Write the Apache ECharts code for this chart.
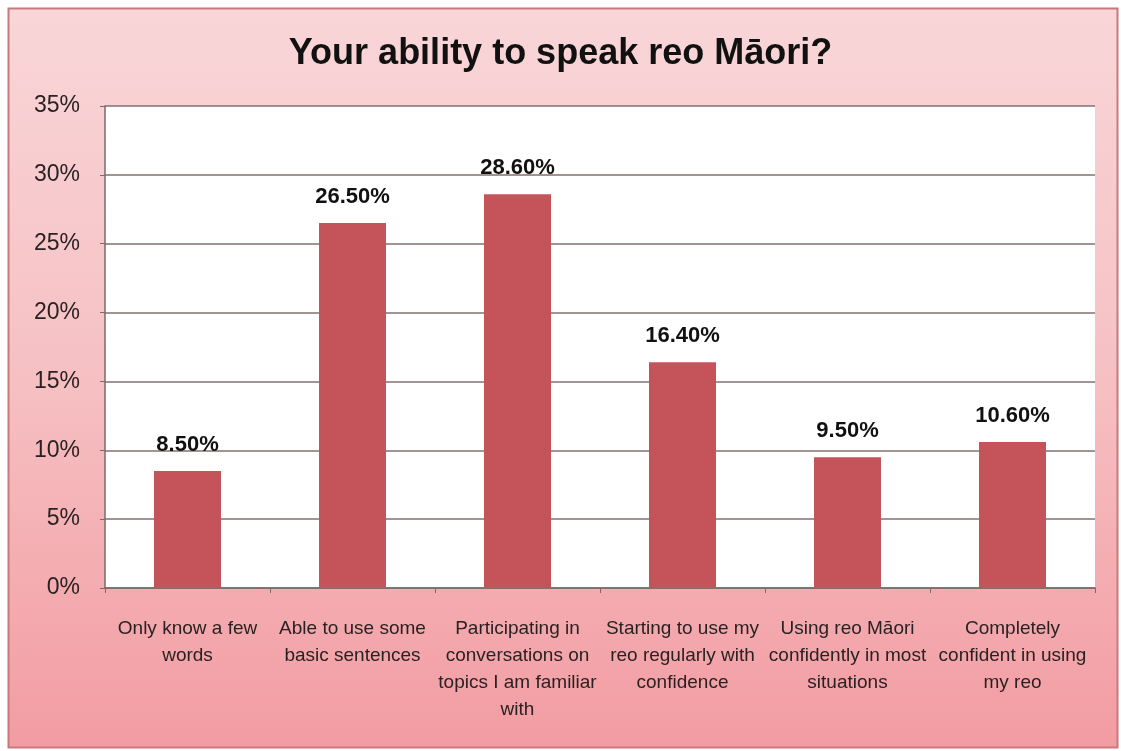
<!DOCTYPE html>
<html>
<head>
<meta charset="utf-8">
<style>
  html, body { margin: 0; padding: 0; background: #ffffff; }
  #chart { width: 1121px; height: 751px; }
</style>
<script src="https://cdn.jsdelivr.net/npm/echarts@6/dist/echarts.min.js"></script>
</head>
<body>
<div id="chart"></div>
<script>
// Survey responses: self-rated ability to speak te reo Māori
const categories = [
  'Only know a few\nwords',
  'Able to use some\nbasic sentences',
  'Participating in\nconversations on\ntopics I am familiar\nwith',
  'Starting to use my\nreo regularly with\nconfidence',
  'Using reo Māori\nconfidently in most\nsituations',
  'Completely\nconfident in using\nmy reo'
];
const percentages = [8.5, 26.5, 28.6, 16.4, 9.5, 10.6];
const yTicks = { min: 0, max: 35, interval: 5 };

const SANS = 'Liberation Sans, Arial, sans-serif';

const chart = echarts.init(document.getElementById('chart'), null, { renderer: 'canvas' });

chart.setOption({
  animation: false,
  backgroundColor: '#ffffff',
  textStyle: { fontFamily: SANS },
  graphic: [{
    type: 'rect',
    z: -10,
    silent: true,
    shape: { x: 8.5, y: 8.5, width: 1109, height: 739 },
    style: {
      fill: new echarts.graphic.LinearGradient(0, 0, 0, 1, [
        { offset: 0, color: '#f9d6d8' },
        { offset: 0.5, color: '#f6c0c3' },
        { offset: 1, color: '#f29ca2' }
      ]),
      stroke: '#c9787c',
      lineWidth: 2
    }
  }],
  title: {
    text: 'Your ability to speak reo Māori?',
    left: 'center',
    top: 31,
    textStyle: {
      fontFamily: SANS,
      fontSize: 36,
      fontWeight: 'bold',
      color: '#111111'
    }
  },
  grid: {
    left: 105,
    right: 26,
    top: 106,
    bottom: 163,
    show: true,
    backgroundColor: '#ffffff',
    borderWidth: 0
  },
  xAxis: {
    type: 'category',
    data: categories,
    axisLine: { show: true, lineStyle: { color: '#7a6a6a', width: 1.5 } },
    axisTick: { show: true, length: 5, lineStyle: { color: '#7a6a6a' } },
    axisLabel: {
      interval: 0,
      margin: 27,
      fontSize: 19,
      lineHeight: 27,
      color: '#2a2222',
      fontFamily: SANS
    }
  },
  yAxis: {
    type: 'value',
    min: yTicks.min,
    max: yTicks.max,
    interval: yTicks.interval,
    axisLine: { show: true, lineStyle: { color: '#7a6a6a', width: 1.5 } },
    axisTick: { show: true, length: 5, lineStyle: { color: '#7a6a6a' } },
    splitLine: { show: true, lineStyle: { color: '#846f6f', width: 1.5 } },
    axisLabel: {
      formatter: '{value}%',
      margin: 25,
      fontSize: 23,
      color: '#2a2222',
      fontFamily: SANS
    }
  },
  series: [{
    type: 'bar',
    data: percentages,
    barWidth: 67,
    itemStyle: { color: '#c4535a' },
    label: {
      show: true,
      position: 'top',
      distance: 15,
      formatter: p => p.value.toFixed(2) + '%',
      fontSize: 22,
      fontWeight: 'bold',
      color: '#111111',
      fontFamily: SANS
    }
  }]
});
</script>
</body>
</html>
